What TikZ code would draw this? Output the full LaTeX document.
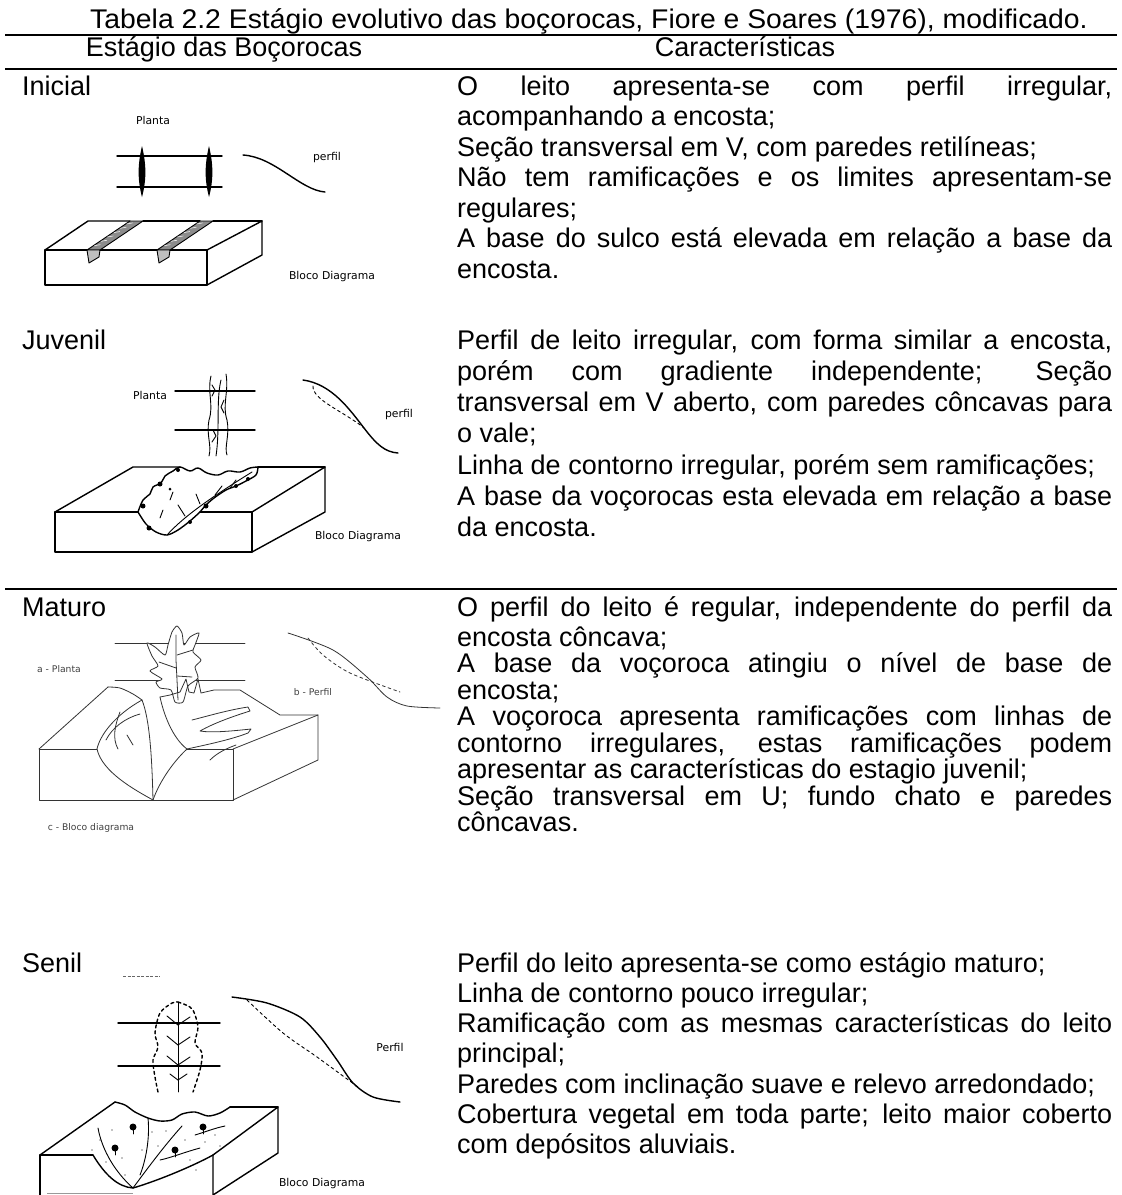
\documentclass[tikz,border=0pt]{standalone}
\usepackage{fontspec}
\setmainfont{Liberation Sans}
\newfontfamily\titlefont{Liberation Sans}[FakeStretch=1.05]
\newfontfamily\skfont{DejaVu Sans}
\usetikzlibrary{calc}
\newcommand\celltxt[3]{\parbox[t]{655pt}{\fontsize{#1}{#2}\selectfont\lineskiplimit=-100pt\lineskip=0pt\tolerance=10000\hbadness=10000\hyphenpenalty=10000\parindent=0pt #3}}
\begin{document}
\begin{tikzpicture}[x=1pt,y=-1pt,
  rulel/.style={line width=2pt},
  body/.style={font=\fontsize{27}{31}\selectfont, inner sep=0pt, anchor=base west},
  head/.style={font=\fontsize{27}{31}\selectfont, inner sep=0pt, anchor=base},
  sk/.style={font=\skfont\fontsize{10.8}{12}\selectfont, inner sep=0pt},
  skm/.style={font=\skfont\fontsize{9.2}{10}\selectfont, inner sep=0pt, text=black!75},
  ink/.style={line width=1.4pt, line join=round, line cap=round},
  inkt/.style={line width=0.9pt, line join=round, line cap=round},
  inkm/.style={line width=0.8pt, line join=round, line cap=round, draw=black!80},
]
\useasboundingbox[fill=white] (0,0) rectangle (1122,1195);

% ---------- title, header, rules
\node[head, font=\titlefont\fontsize{27}{31}\selectfont] (title) at (589,28) {Tabela 2.2 Estágio evolutivo das boçorocas, Fiore e Soares (1976), modificado.};
\coordinate (r1a) at (5,35); \coordinate (r1b) at (1117,35);
\coordinate (r2a) at (5,69); \coordinate (r2b) at (1117,69);
\coordinate (r3a) at (5,589); \coordinate (r3b) at (1117,589);
\draw[rulel] (r1a) -- (r1b);
\draw[rulel] (r2a) -- (r2b);
\draw[rulel] (r3a) -- (r3b);
\node[head] (h1) at (224,56) {Estágio das Boçorocas};
\node[head] (h2) at (745,56) {Características};

% ---------- row labels and texts
\node[body] (lIni) at (22,95) {Inicial};
\node[body] (tIni) at (457,95) {\celltxt{27}{30.5}{O leito apresenta-se com perfil irregular,\linebreak acompanhando a encosta;\newline Seção transversal em V, com paredes retilíneas;\newline Não tem ramificações e os limites apresentam-se\linebreak regulares;\newline A base do sulco está elevada em relação a base da\linebreak encosta.}};

\node[body] (lJuv) at (22,349) {Juvenil};
\node[body] (tJuv) at (457,349) {\celltxt{27}{31.3}{Perfil de leito irregular, com forma similar a encosta,\linebreak porém com gradiente independente; Seção\linebreak transversal em V aberto, com paredes côncavas para\linebreak o vale;\newline Linha de contorno irregular, porém sem ramificações;\newline A base da voçorocas esta elevada em relação a base\linebreak da encosta.}};

\node[body] (lMat) at (22,616) {Maturo};
\node[body] (tMat1) at (457,616) {\makebox[655pt][s]{O perfil do leito é regular, independente do perfil da}};
\node[body] (tMat) at (457,646) {\celltxt{27}{26.5}{encosta côncava;\newline A base da voçoroca atingiu o nível de base de\linebreak encosta;\newline A voçoroca apresenta ramificações com linhas de\linebreak contorno irregulares, estas ramificações podem\linebreak apresentar as características do estagio juvenil;\newline Seção transversal em U; fundo chato e paredes\linebreak côncavas.}};

\node[body] (lSen) at (22,972) {Senil};
\node[body] (tSen) at (457,972) {\celltxt{27}{30.3}{Perfil do leito apresenta-se como estágio maturo;\newline Linha de contorno pouco irregular;\newline Ramificação com as mesmas características do leito\linebreak principal;\newline Paredes com inclinação suave e relevo arredondado;\newline Cobertura vegetal em toda parte; leito maior coberto\linebreak com depósitos aluviais.}};

% ---------- sketch: Inicial
\node[sk] (pl1) at (153,120) {Planta};
\draw[ink] (117,156) -- (222,156);
\draw[ink] (117,187) -- (222,187);
\foreach \gx in {142,209}
  \fill (\gx,146) .. controls (\gx+4.5,165) and (\gx+4.5,180) .. (\gx,197) .. controls (\gx-4.5,180) and (\gx-4.5,165) .. (\gx,146);
\draw[ink] (243,155) .. controls (275,157) and (300,190) .. (325,192);
\node[sk] (pf1) at (327,158) {perfil};
\draw[ink] (45,250) -- (45,285) -- (207,285) -- (207,250);
\draw[ink] (45,250) -- (87,250);
\draw[ink] (100,250) -- (157,250);
\draw[ink] (170,250) -- (207,250);
\draw[ink] (207,250) -- (262,221) -- (262,255) -- (207,285);
\draw[ink] (45,250) -- (88,221) -- (130,221);
\draw[ink] (143,221) -- (200,221);
\draw[ink] (213,221) -- (262,221);
\foreach \a in {0,70} {
  \filldraw[inkt, fill=black!45] (87+\a,250) -- (130+\a,221) -- (143+\a,221) -- (100+\a,250) -- cycle;
  \filldraw[inkt, fill=black!25] (87+\a,250) -- (89+\a,263) -- (99+\a,257) -- (100+\a,250) -- cycle;
  \foreach \t in {0.15,0.3,0.45,0.6,0.75,0.9}
    \draw[white, line width=0.5pt] ($(88+\a,250)!\t!(131+\a,221)$) -- ++(6,-1);
}
\node[sk] (bd1) at (332,277) {Bloco Diagrama};

% ---------- sketch: Juvenil
\node[sk] (pl2) at (150,395) {Planta};
\draw[ink] (175,391) -- (255,391);
\draw[ink] (175,430) -- (255,430);
\draw[inkt] (211,376) .. controls (207,392) and (214,405) .. (209,420) .. controls (206,435) and (212,445) .. (209,456);
\draw[inkt] (226,374) .. controls (229,392) and (222,405) .. (227,420) .. controls (230,435) and (224,447) .. (227,455);
\draw[inkt] (221,380) .. controls (216,400) and (220,430) .. (216,456);
\draw[inkt] (212,385) -- (215,390) -- (212,396);
\draw[inkt] (224,400) -- (221,407) -- (224,413);
\draw[inkt] (213,430) -- (216,436) -- (212,442);
\draw[ink] (303,380) .. controls (332,384) and (350,410) .. (364,428) .. controls (377,445) and (385,452) .. (398,453);
\draw[inkt, dashed] (313,386) .. controls (312,400) and (345,412) .. (364,428);
\node[sk] (pf2) at (399,415) {perfil};
\draw[ink] (138,512) -- (55,512) -- (55,552) -- (252,552) -- (252,512) -- (200,512);
\draw[ink] (252,512) -- (325,467) -- (325,512) -- (252,552);
\draw[ink] (55,512) -- (133,467) -- (180,467);
\draw[ink] (258,467) -- (325,467);
\draw[ink] plot[smooth, tension=0.6] coordinates {(138,512) (143,500) (150,494) (153,487) (161,483) (165,476) (173,471) (180,467) (190,471) (198,468) (207,473) (218,475) (228,471) (240,472) (250,468) (258,467)};
\draw[ink] plot[smooth] coordinates {(258,467) (256,475) (246,481) (236,486) (226,490) (214,498) (206,505) (200,512)};
\draw[ink] plot[smooth] coordinates {(138,512) (146,524) (156,532) (167,535) (178,530) (190,521) (200,512)};
\draw[inkt] (167,535) .. controls (185,515) and (215,495) .. (252,472);
\draw[inkt] (185,516) -- (178,505);
\draw[inkt] (200,504) -- (196,494);
\draw[inkt] (215,495) -- (222,486);
\draw[inkt] (230,488) -- (236,480);
\draw[inkt] (160,518) -- (163,510);
\draw[inkt] (170,500) -- (173,492);
\foreach \bx/\by/\br in {143/506/2.5,160/484/2.5,178/470/2,236/486/2,206/506/2.5,149/528/2.5,190/522/2,170/489/1.5,248/479/2}
  \fill (\bx,\by) circle (\br);
\node[sk] (bd2) at (358,537) {Bloco Diagrama};

% ---------- sketch: Maturo
\draw[inkm] (115,643) -- (245,643);
\draw[inkm] (115,680) -- (245,680);
\filldraw[inkm, fill=white] plot[smooth cycle, tension=0.4] coordinates {(175,702) (171,690) (160,688) (156,682) (162,679) (150,671) (158,666) (152,656) (147,643) (155,647) (165,655) (168,645) (172,632) (177,626) (182,633) (184,645) (190,637) (199,633) (195,645) (193,652) (201,660) (195,667) (198,678) (188,686) (183,702)};
\draw[inkm] (178,700) -- (176,660) -- (176,635);
\draw[inkm] (176,668) -- (159,662);
\draw[inkm] (177,655) -- (193,650);
\draw[inkm] (177,676) -- (192,677);
\node[skm] (pl3) at (59,669) {a - Planta};
\node[skm] (pf3) at (313,692) {b - Perfil};
\draw[inkm] plot[smooth] coordinates {(288,633) (333,650) (367,677) (387,697) (407,706) (440,708)};
\draw[inkm, dashed] plot[smooth] coordinates {(308,638) (323,655) (350,673) (400,692)};
\draw[inkm] (97,749) -- (39,749) -- (39,800) -- (233,800) -- (233,749) -- (187,749);
\draw[inkm] (233,749) -- (318,715) -- (318,760) -- (233,800);
\draw[inkm] (39,749) -- (108,687);
\draw[inkm] plot[smooth] coordinates {(108,687) (120,688) (133,694) (142,700)};
\draw[inkm] (160,697) -- (170,695) -- (180,692) -- (186,679) -- (189,692) -- (194,693) -- (198,679) -- (201,693) -- (214,690) -- (240,690) -- (280,715) -- (318,715);
\draw[inkm] (97,749) .. controls (102,772) and (135,790) .. (153,800);
\draw[inkm] (153,800) .. controls (160,780) and (175,760) .. (187,749);
\draw[inkm] (97,749) .. controls (100,735) and (115,715) .. (142,700);
\draw[inkm] (106,740) .. controls (112,728) and (125,718) .. (140,714);
\draw[inkm] (142,700) .. controls (150,720) and (152,760) .. (153,800);
\draw[inkm] (160,697) .. controls (165,720) and (175,740) .. (187,749);
\draw[inkm] (187,749) .. controls (205,745) and (230,740) .. (248,733) -- (251,729) .. controls (232,731) and (212,733) .. (200,731) .. controls (214,723) and (234,716) .. (250,711) -- (248,707) .. controls (228,710) and (208,716) .. (192,720);
\draw[inkm] (210,760) .. controls (218,752) and (228,748) .. (236,745);
\draw[inkm] (120,712) .. controls (115,725) and (112,738) .. (118,749);
\draw[inkm] (127,735) -- (133,745);
\node[skm] (bd3) at (91,828) {c - Bloco diagrama};

% ---------- sketch: Senil
\draw[black!60, line width=0.9pt, dash pattern=on 3pt off 1.5pt] (123,976) -- (160,976);
\draw[ink] (118,1023) -- (220,1023);
\draw[ink] (118,1066) -- (220,1066);
\draw[ink, dashed] plot[smooth] coordinates {(158,1092) (155,1077) (153,1060) (158,1047) (155,1033) (160,1013) (172,1003) (178,1002)};
\draw[ink, dashed] plot[smooth] coordinates {(178,1002) (186,1005) (193,1010) (198,1027) (195,1043) (202,1053) (200,1070) (193,1092)};
\draw[inkt] (178,1003) -- (178,1092);
\foreach \vy in {1025,1045,1065} {
  \draw[inkt] (178,\vy) -- (167,\vy-9);
  \draw[inkt] (178,\vy) -- (190,\vy-8);
}
\draw[inkt] (178,1080) -- (170,1074);
\draw[inkt] (178,1080) -- (187,1074);
\draw[ink] plot[smooth] coordinates {(232,997) (267,1003) (300,1017) (320,1037) (337,1060) (353,1083) (373,1097) (400,1102)};
\draw[inkt, dashed] plot[smooth] coordinates {(247,1000) (283,1033) (317,1057) (358,1087)};
\node[sk] (pf4) at (390,1047) {Perfil};
\draw[ink] (40,1195) -- (40,1155) -- (93,1155);
\draw[ink] (93,1155) .. controls (105,1175) and (118,1187) .. (133,1188) .. controls (160,1180) and (195,1165) .. (213,1155);
\draw[ink] (213,1195) -- (213,1155) -- (278,1107) -- (278,1153) -- (213,1195);
\draw[ink] (40,1155) -- (115,1102);
\draw[ink] plot[smooth] coordinates {(115,1102) (125,1105) (135,1112) (148,1118) (160,1121) (172,1120) (182,1114) (195,1112) (208,1116) (220,1113) (230,1107)};
\draw[ink] (230,1107) -- (278,1107);
\draw[inkt] (133,1188) .. controls (150,1165) and (165,1145) .. (182,1126);
\draw[inkt] (98,1128) .. controls (102,1150) and (115,1172) .. (133,1188);
\draw[inkt] (148,1118) .. controls (150,1138) and (146,1160) .. (140,1175);
\draw[inkt] (195,1135) .. controls (205,1132) and (215,1128) .. (225,1126);
\draw[inkt] (160,1160) .. controls (170,1158) and (185,1152) .. (200,1148);
\foreach \tx/\ty in {133/1127,115/1148,175/1150,203/1127} {
  \fill (\tx,\ty) circle (3.5);
  \draw[inkt] (\tx,\ty) -- (\tx,\ty+7);
}
\foreach \dx/\dy in {100/1140,106/1162,112/1130,122/1158,125/1175,152/1132,158/1146,166/1131,190/1160,196/1170,205/1142,215/1135,220/1146,185/1140,142/1150,92/1150}
  \fill (\dx,\dy) circle (0.7);
\draw[black!40, line width=1pt] (47,1193) -- (133,1193);
\node[sk] (bd4) at (322,1184) {Bloco Diagrama};
\end{tikzpicture}
\end{document}
